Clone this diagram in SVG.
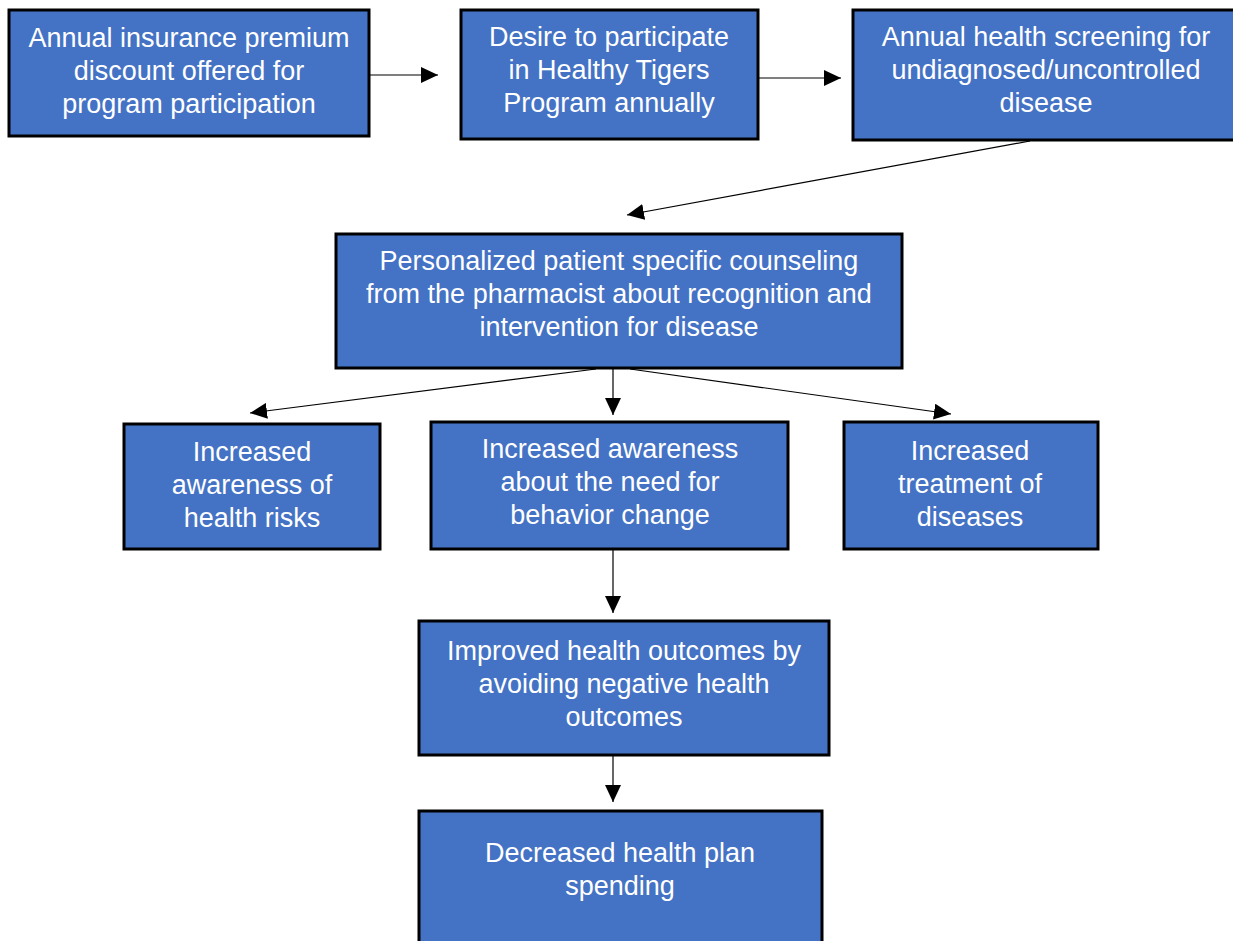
<svg xmlns="http://www.w3.org/2000/svg" width="1233" height="941" viewBox="0 0 1233 941">
<style>
.box{fill:#4472C4;stroke:#000;stroke-width:3}
.t{font-family:"Liberation Sans",Arial,sans-serif;font-size:27px;fill:#fff;text-anchor:middle}
.c{stroke:#000;stroke-width:1.2;fill:none;marker-end:url(#ah)}
</style>
<defs>
<marker id="ah" markerUnits="userSpaceOnUse" markerWidth="18" markerHeight="16" refX="17" refY="8" orient="auto">
<path d="M0,0 L17,8 L0,16 Z" fill="#000"/>
</marker>
</defs>
<rect width="1233" height="941" fill="#fff"/>
<g id="connectors">
<line class="c" x1="370" y1="75" x2="438" y2="75"/>
<line class="c" x1="759" y1="78" x2="841" y2="78"/>
<line class="c" x1="1030" y1="141" x2="627" y2="215"/>
<line class="c" x1="596" y1="369" x2="250" y2="413"/>
<line class="c" x1="613" y1="369" x2="613" y2="415"/>
<line class="c" x1="630" y1="369" x2="951" y2="414"/>
<line class="c" x1="613" y1="550" x2="613" y2="613"/>
<line class="c" x1="613" y1="756" x2="613" y2="802"/>
</g>
<g id="n1"><rect class="box" x="9" y="10" width="360" height="126"/>
<text class="t" x="189" y="47">Annual insurance premium</text>
<text class="t" x="189" y="80">discount offered for</text>
<text class="t" x="189" y="113">program participation</text></g>
<g id="n2"><rect class="box" x="461" y="10" width="297" height="129"/>
<text class="t" x="609" y="46">Desire to participate</text>
<text class="t" x="609" y="79">in Healthy Tigers</text>
<text class="t" x="609" y="112">Program annually</text></g>
<g id="n3"><rect class="box" x="853" y="10" width="390" height="130"/>
<text class="t" x="1046" y="46">Annual health screening for</text>
<text class="t" x="1046" y="79">undiagnosed/uncontrolled</text>
<text class="t" x="1046" y="112">disease</text></g>
<g id="n4"><rect class="box" x="336" y="234" width="566" height="134"/>
<text class="t" x="619" y="270">Personalized patient specific counseling</text>
<text class="t" x="619" y="303">from the pharmacist about recognition and</text>
<text class="t" x="619" y="336">intervention for disease</text></g>
<g id="n5"><rect class="box" x="124" y="424" width="256" height="125"/>
<text class="t" x="252" y="461">Increased</text>
<text class="t" x="252" y="494">awareness of</text>
<text class="t" x="252" y="527">health risks</text></g>
<g id="n6"><rect class="box" x="431" y="422" width="357" height="127"/>
<text class="t" x="610" y="458">Increased awareness</text>
<text class="t" x="610" y="491">about the need for</text>
<text class="t" x="610" y="524">behavior change</text></g>
<g id="n7"><rect class="box" x="844" y="422" width="254" height="127"/>
<text class="t" x="970" y="460">Increased</text>
<text class="t" x="970" y="493">treatment of</text>
<text class="t" x="970" y="526">diseases</text></g>
<g id="n8"><rect class="box" x="419" y="621" width="410" height="134"/>
<text class="t" x="624" y="660">Improved health outcomes by</text>
<text class="t" x="624" y="693">avoiding negative health</text>
<text class="t" x="624" y="726">outcomes</text></g>
<g id="n9"><rect class="box" x="419" y="811" width="403" height="140"/>
<text class="t" x="620" y="862">Decreased health plan</text>
<text class="t" x="620" y="895">spending</text></g>
</svg>
